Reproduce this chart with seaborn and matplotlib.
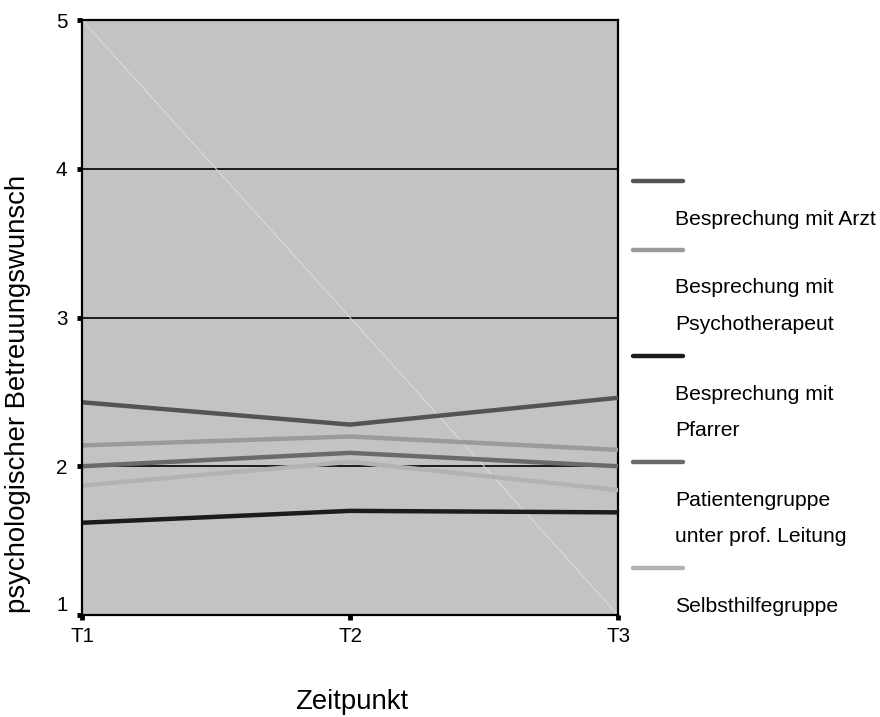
import matplotlib
matplotlib.use("Agg")
import matplotlib.pyplot as plt
from matplotlib.lines import Line2D
import seaborn as sns
import pandas as pd

# Mean wish for psychological support per time point and type of support
zeitpunkte = ["T1", "T2", "T3"]
arzt = [2.43, 2.28, 2.46]
psychotherapeut = [2.14, 2.20, 2.11]
pfarrer = [1.62, 1.70, 1.69]
patientengruppe = [2.00, 2.09, 2.00]
selbsthilfegruppe = [1.87, 2.03, 1.84]

gruppen = [
    "Besprechung mit Arzt",
    "Besprechung mit\nPsychotherapeut",
    "Besprechung mit\nPfarrer",
    "Patientengruppe\nunter prof. Leitung",
    "Selbsthilfegruppe",
]
werte = [arzt, psychotherapeut, pfarrer, patientengruppe, selbsthilfegruppe]
farben = ["#545454", "#9a9a9a", "#1c1c1c", "#6a6a6a", "#b2b2b2"]

y_ticks = [1, 2, 3, 4, 5]

df = pd.DataFrame(
    [(g, i, z, v) for g, vals in zip(gruppen, werte)
     for i, (z, v) in enumerate(zip(zeitpunkte, vals))],
    columns=["Gruppe", "pos", "Zeitpunkt", "Wert"],
)

sns.set_style("white")
plt.rcParams["font.family"] = ["Liberation Sans", "DejaVu Sans"]
plt.rcParams["text.color"] = "black"
plt.rcParams["axes.labelcolor"] = "black"

W, H = 880, 717
fig = plt.figure(figsize=(W / 100, H / 100), dpi=100)
ax = fig.add_axes([82 / W, 102 / H, 536 / W, 595 / H])
ax.set_facecolor("#c3c3c3")

# horizontal reference lines
for yv in y_ticks[1:-1]:
    ax.axhline(yv, color="black", lw=1.2, zorder=1)

# faint diagonal across the plot area
ax.plot([0, 1], [1, 0], transform=ax.transAxes, color="#dedede", lw=0.7, zorder=1)

sns.lineplot(
    data=df, x="pos", y="Wert", hue="Gruppe", hue_order=gruppen,
    palette=dict(zip(gruppen, farben)), linewidth=3.2, sort=False,
    legend=False, ax=ax, zorder=3,
)

ax.set_xlim(0, len(zeitpunkte) - 1)
ax.set_ylim(y_ticks[0], y_ticks[-1])
ax.set_xticks(range(len(zeitpunkte)))
ax.set_xticklabels(zeitpunkte)
ax.set_yticks(y_ticks)
ax.set_yticklabels([str(t) for t in y_ticks])
ax.get_yticklabels()[0].set_va("bottom")

for s in ax.spines.values():
    s.set_visible(True)
    s.set_color("black")
    s.set_linewidth(1.6)
ax.spines["left"].set_zorder(4)

ax.tick_params(axis="both", direction="out", length=3.5, width=3.5,
               colors="black", labelsize=14.8, labelcolor="black")
ax.tick_params(axis="y", pad=7)
ax.tick_params(axis="x", pad=5)
ax.tick_params(left=True, bottom=True)

ax.set_xlabel("Zeitpunkt", fontsize=19.8)
ax.set_ylabel("psychologischer Betreuungswunsch", fontsize=19.8)
ax.xaxis.set_label_coords((352 - 82) / 536, (615 - 702) / 595)
ax.xaxis.label.set_va("center")
ax.yaxis.set_label_coords((18 - 82) / 536, (615 - 394) / 595)
ax.yaxis.label.set_va("center")

# legend: colour sample above each label, labels may span two lines
y = 181
for g, c in zip(gruppen, farben):
    fig.add_artist(Line2D([633 / W, 683 / W], [1 - y / H] * 2, color=c, lw=3.2))
    y += 38
    zeilen = g.split("\n")
    for k, zeile in enumerate(zeilen):
        fig.text(675 / W, 1 - y / H, zeile, fontsize=15.2, va="center", ha="left",
                 color="black")
        if k < len(zeilen) - 1:
            y += 37
    y += 31

fig.savefig("out.png", dpi=100)
